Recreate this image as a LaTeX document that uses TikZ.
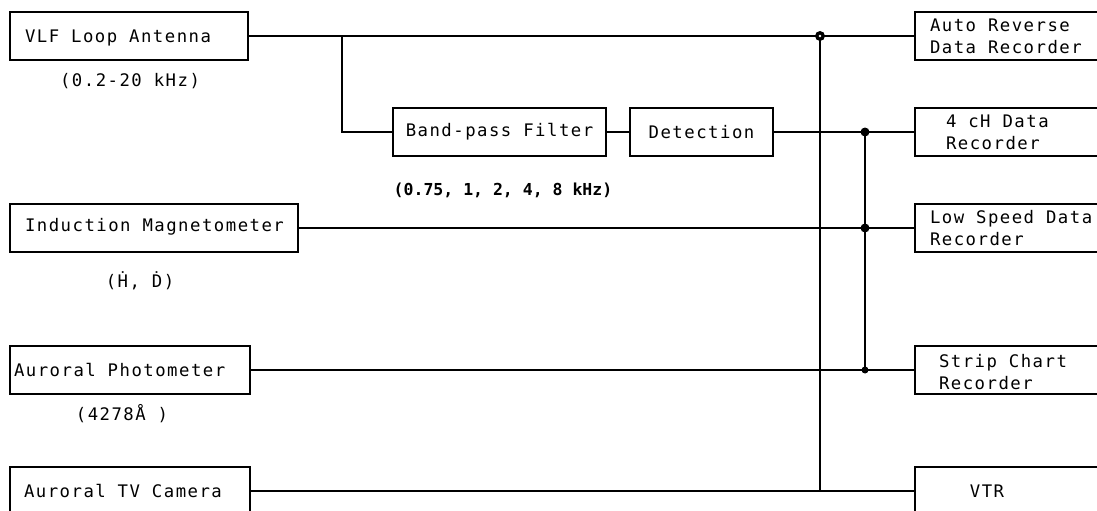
\documentclass[tikz,border=0pt]{standalone}
\usepackage{fontspec}
\newfontfamily\tw[LetterSpace=8.6]{DejaVu Sans Mono}
\newfontfamily\twb{DejaVu Sans Mono}
\begin{document}
\begin{tikzpicture}[x=1pt,y=-1pt,
  every node/.style={inner sep=0pt, outer sep=0pt},
  lbox/.style={draw, line width=2pt, anchor=north west, minimum height=48pt},
  rbox/.style={anchor=north west, minimum height=48pt, minimum width=200pt},
  txt/.style={font=\tw\fontsize{17.3}{22}\selectfont, text=black},
  btxt/.style={font=\twb\bfseries\fontsize{16.5}{20}\selectfont},
  wire/.style={line width=2pt},
  dotj/.style={fill=black}]
\useasboundingbox (0,0) rectangle (1097,511);
\clip (0,0) rectangle (1097,511);
\fill[white] (0,0) rectangle (1097,511);
% left boxes
\node[lbox, minimum width=238pt] (vlf) at (10,12) {};
\node[lbox, minimum width=288pt] (im) at (10,204) {};
\node[lbox, minimum width=240pt] (ap) at (10,346) {};
\node[lbox, minimum width=240pt] (tv) at (10,467) {};
% middle boxes
\node[lbox, minimum width=213pt] (bp) at (393,108) {};
\node[lbox, minimum width=143pt] (det) at (630,108) {};
% right boxes
\node[rbox] (ar) at (915,12) {};
\node[rbox] (cd) at (915,108) {};
\node[rbox] (ls) at (915,204) {};
\node[rbox] (sc) at (915,346) {};
\node[rbox] (vtr) at (915,467) {};
\foreach \n in {ar,cd,ls,sc,vtr}{
  \draw[line width=2pt] (\n.north east) -- (\n.north west) -- (\n.south west) -- (\n.south east);
}
% texts
\node[txt, anchor=west] (t1) at (25,38) {VLF Loop Antenna};
\node[txt] (l1) at (130,81) {(0.2-20 kHz)};
\node[txt] (t2) at (bp.center) {Band-pass Filter};
\node[txt] (t3) at (det.center) {Detection};
\node[btxt] (l2) at (503,190) {(0.75, 1, 2, 4, 8 kHz)};
\node[txt, anchor=west] (t4) at (25,227) {Induction Magnetometer};
\node[txt] (l3) at (140,281) {(Ḣ, Ḋ)};
\node[txt, anchor=west] (t5) at (14,370) {Auroral Photometer};
\node[txt] (l4) at (122,414) {(4278Å )};
\node[txt, anchor=west] (t6) at (24,491) {Auroral TV Camera};
\node[txt, anchor=west, align=left] (r1) at (930,36) {Auto Reverse\\Data Recorder};
\node[txt, anchor=west, align=left] (r2) at (946,132) {4 cH Data\\Recorder};
\node[txt, anchor=west, align=left] (r3) at (930,228) {Low Speed Data\\Recorder};
\node[txt, anchor=west, align=left] (r4) at (939,372) {Strip Chart\\Recorder};
\node[txt] (r5) at (987,491) {VTR};
% junction coordinates
\coordinate (br) at (342,36);
\coordinate (ja) at (820,36);
\coordinate (jb) at (865,132);
\coordinate (jc) at (865,228);
% wires
\draw[wire] (vlf.east) -- (ar.west);
\draw[wire] (br) |- (bp.west);
\draw[wire] (bp.east) -- (det.west);
\draw[wire] (det.east) -- (cd.west);
\draw[wire] (im.east) -- (ls.west);
\draw[wire] (ap.east) -- (sc.west);
\draw[wire] (tv.east) -- (vtr.west);
\draw[wire] (ja) -- (ja |- vtr.west);
\draw[wire] (jb) -- (jb |- sc.west);
% dots
\fill[dotj] (ja) circle (5pt);
\fill[white] (ja) circle (1.3pt);
\fill[dotj] (jb) circle (4.5pt);
\fill[dotj] (jc) circle (4.5pt);
\fill[dotj] (jb |- sc.west) circle (3.5pt);
\end{tikzpicture}
\end{document}
